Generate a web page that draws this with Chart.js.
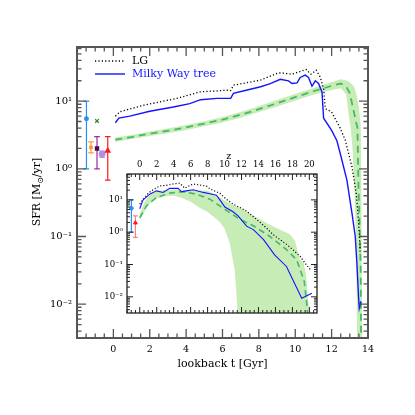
<!DOCTYPE html>
<html>
<head>
<meta charset="utf-8">
<script src="https://cdn.jsdelivr.net/npm/chart.js@4/dist/chart.umd.min.js"></script>
<style>
  body { margin: 0; background: #fff; }
  #marco { position: relative; width: 415px; height: 415px; }
  canvas { position: absolute; left: 0; top: 0; }
</style>
</head>
<body>
<div id="marco">
  <canvas id="principal" width="415" height="415"></canvas>
  <canvas id="recuadro" width="415" height="415"></canvas>
</div>
<script>
// Panel principal: tiempo de lookback (Gyr) contra SFR (Msol/yr)
const tiemposMW = [0.11, 0.3, 0.9, 2.0, 3.3, 4.2, 4.8, 5.7, 6.45, 6.6, 7.3, 8.1, 8.63, 9.18, 9.63, 9.82, 10.1, 10.27, 10.55, 10.73, 10.92, 11.1, 11.28, 11.47, 11.56, 12.0, 12.29, 12.47, 12.84, 13.12, 13.3, 13.39, 13.48, 13.52, 13.61];
const sfrMW = [4.8, 5.6, 6.0, 7.1, 8.2, 9.2, 10.5, 11.0, 11.0, 13.0, 14.5, 16.3, 18.2, 21, 19.9, 18.2, 18.6, 22.4, 24.2, 22.4, 16.6, 20, 18.2, 13.7, 5.6, 3.7, 2.6, 1.7, 0.68, 0.22, 0.1, 0.04, 0.013, 0.0087, 0.011];

const tiemposLG = [0.11, 0.38, 1.67, 3.5, 4.78, 6.25, 6.45, 6.6, 8.08, 8.63, 9.0, 9.18, 9.82, 10.37, 10.6, 10.86, 11.15, 11.37, 11.56, 11.65, 12.0, 12.47, 12.75, 13.12, 13.35, 13.48, 13.53, 13.57];
const sfrLG = [6.0, 7.0, 8.7, 11, 13.7, 14.5, 14.3, 17.2, 20.4, 23.4, 25.7, 26.2, 25, 28, 29.4, 25, 28.7, 22.8, 15.4, 7.8, 6.9, 4.0, 2.65, 1.07, 0.44, 0.17, 0.1, 0.057];

const tiemposModelo = [0.1, 1, 2, 3, 4, 5, 6, 7, 8, 9, 10, 11, 12, 12.5, 12.8, 13.0, 13.2, 13.42, 13.48, 13.55, 13.6, 13.63];
const sfrModelo = [2.7, 2.95, 3.3, 3.65, 4.1, 4.65, 5.35, 6.3, 7.6, 9.3, 11.5, 14, 16.8, 18.2, 16.5, 13, 7.4, 4, 0.5, 0.12, 0.03, 0.001];

const tiemposBanda = [0.1, 1, 2, 3, 4, 5, 6, 7, 8, 9, 10, 11, 12, 12.5, 12.8, 12.95, 13.05, 13.15, 13.25, 13.35, 13.4, 13.5, 13.6, 13.64, 13.68, 13.72];
const bandaAlta = [2.9, 3.15, 3.55, 3.95, 4.45, 5.05, 5.85, 6.9, 8.4, 10.4, 12.8, 15.7, 19.2, 21, 20.2, 19.5, 18.5, 17.5, 16, 13, 11.5, 8, 4.4, 0.3, 0.005, 0.001];
const bandaBaja = [2.5, 2.75, 3.05, 3.35, 3.75, 4.25, 4.85, 5.7, 6.9, 8.3, 10.2, 12.4, 14.6, 15.5, 12.5, 6, 4, 2, 0.5, 0.09, 0.003, 0.001, 0.001, 0.001, 0.001, 0.001];

// Observaciones con barras de error
const obsT = [-1.48, -1.23, -0.9, -0.9, -0.62, -0.31];
const obsSfr = [5.5, 2.07, 2.0, 5.1, 1.65, 1.85];
const obsBajo = [1.0, 1.72, 1.0, null, 1.47, 0.68];
const obsAlto = [10, 2.5, 3.0, null, 1.82, 3.0];
const obsColores = ["#2a8ff0", "#ff9a33", "#9a2c9e", "#2e8b2e", "#b893e0", "#ff1a1a"];
const obsRelleno = ["#2a8ff0", "#ff9a33", "#4f0a55", "#2e8b2e", "#b48ee0", "#ff1a1a"];
const obsMarcas = ["circle", "circle", "rect", "crossRot", "circle", "triangle"];
const obsRadios = [1.8, 1.5, 2.2, 2.6, 2.8, 2.6];

// Recuadro: redshift z contra SFR
const zMW = [0, 0.4, 1.18, 1.97, 2.75, 3.54, 4.52, 4.92, 5.5, 6.3, 7.5, 8.26, 9.05, 9.45, 10.04, 11.0, 11.6, 12.6, 13.4, 14.6, 15.9, 17.3, 19.1, 20.3];
const sfrMWz = [5.3, 10, 15, 19, 17, 22.7, 22.7, 17.8, 19, 20.5, 17, 15.5, 14, 10, 6.0, 4.3, 3.2, 1.54, 1.2, 0.59, 0.2, 0.087, 0.009, 0.013];

const zLG = [0, 0.6, 1.0, 1.57, 2.36, 3.1, 3.93, 4.72, 5.3, 5.8, 6.3, 7.0, 7.87, 8.26, 9.45, 10.2, 11.0, 11.8, 12.6, 13.4, 14.2, 15.0, 15.7, 16.5, 17.3, 18.1, 18.9, 19.5, 20.1];
const sfrLGz = [7.4, 12, 16, 20.6, 27, 28, 31, 33, 23, 27, 31, 29, 26.6, 22, 16, 10.5, 7.4, 5.8, 4.5, 3.0, 2.0, 1.3, 0.85, 0.6, 0.42, 0.28, 0.18, 0.11, 0.07];

const zModelo = [0, 0.79, 1.97, 3.54, 5.1, 6.7, 8.26, 9.84, 11.8, 13.4, 15.3, 17.3, 18.5, 19.0, 19.4, 19.7, 19.9];
const sfrModeloZ = [2.8, 6.5, 11.9, 16.2, 17.8, 15, 10.5, 5.5, 2.5, 1.58, 0.75, 0.29, 0.14, 0.06, 0.03, 0.006, 0.001];

const zBanda = [0, 0.5, 1, 2, 3, 4, 5, 6, 7, 8, 9, 9.5, 10, 10.6, 11.2, 11.6, 12, 13, 14, 15, 16, 17, 17.7, 18.3, 18.9, 19.3, 19.6, 20, 20.3];
const bandaAltaZ = [3.6, 8, 13, 19, 20, 21, 20.5, 20, 19.5, 19, 14, 11.5, 9.5, 8, 6.5, 6, 5.3, 3.8, 2.7, 1.9, 1.4, 1.05, 0.86, 0.54, 0.14, 0.12, 0.05, 0.003, 0.001];
const bandaBajaZ = [2.2, 4, 7, 11, 13, 13.3, 11.5, 8.8, 5.8, 4.2, 2.6, 2.0, 1.3, 0.47, 0.068, 0.002, 0.001, 0.001, 0.001, 0.001, 0.001, 0.001, 0.001, 0.001, 0.001, 0.001, 0.001, 0.001, 0.001];

const obsZ = [-0.98, -0.51];
const obsSfrZ = [5.5, 1.95];
const obsBajoZ = [1.0, 0.69];
const obsAltoZ = [10, 3.2];
const obsColoresZ = ["#2a8ff0", "#ff8080"];
const obsRellenoZ = ["#2a8ff0", "#ff1a1a"];
const obsMarcasZ = ["circle", "triangle"];
const obsRadiosZ = [1.8, 2.2];

// Ticks y textos
const ticksT = [0, 2, 4, 6, 8, 10, 12, 14];
const ticksZ = [0, 2, 4, 6, 8, 10, 12, 14, 16, 18, 20];
const decadas = [0.01, 0.1, 1, 10];
const etiquetasDecada = ["10⁻²", "10⁻¹", "10⁰", "10¹"];
const tituloX = "lookback t [Gyr]";
const tituloY = ["SFR [M", "⊙", "/yr]"];
const tituloZ = "z";
const nombresLeyenda = ["LG", "Milky Way tree"];

const AZUL = "#1414ff";
const VERDE = "#45b86a";
const BANDA = "#c8ecb6";
const FUENTE = '"DejaVu Serif", serif';

Chart.defaults.font.family = FUENTE;
Chart.defaults.color = "#000";

const pts = (xs, ys) => xs.map((x, i) => ({ x, y: ys[i] }));
const etiquetaDecada = (v) => {
  const i = decadas.findIndex((d) => Math.abs(d - v) / d < 1e-6);
  return i >= 0 ? etiquetasDecada[i] : "";
};

// Marco con ticks hacia dentro en los cuatro lados
const marco = (ejeX, cfg) => ({
  id: "marco",
  afterDraw(chart) {
    const { ctx, chartArea: a } = chart;
    const sx = chart.scales[ejeX];
    const sy = chart.scales.y;
    ctx.save();
    ctx.strokeStyle = cfg.color;
    ctx.lineWidth = cfg.grosorTic;
    ctx.beginPath();
    const ini = Math.ceil(sx.min / cfg.pasoMenor - 1e-9) * cfg.pasoMenor;
    for (let v = ini; v <= sx.max + 1e-9; v += cfg.pasoMenor) {
      const r = v / cfg.pasoMayor;
      const largo = Math.abs(r - Math.round(r)) < 1e-6 ? cfg.mayor : cfg.menor;
      const px = sx.getPixelForValue(v);
      ctx.moveTo(px, a.bottom);
      ctx.lineTo(px, a.bottom - largo);
      ctx.moveTo(px, a.top);
      ctx.lineTo(px, a.top + largo);
    }
    const e0 = Math.floor(Math.log10(sy.min));
    const e1 = Math.ceil(Math.log10(sy.max));
    for (let e = e0; e <= e1; e++) {
      for (let m = 1; m <= 9; m++) {
        const v = m * Math.pow(10, e);
        if (v < sy.min || v > sy.max) continue;
        const py = sy.getPixelForValue(v);
        const largo = m === 1 ? cfg.mayor : cfg.menor;
        ctx.moveTo(a.left, py);
        ctx.lineTo(a.left + largo, py);
        ctx.moveTo(a.right, py);
        ctx.lineTo(a.right - largo, py);
      }
    }
    ctx.stroke();
    ctx.lineWidth = cfg.grosor;
    ctx.strokeRect(a.left, a.top, a.right - a.left, a.bottom - a.top);
    ctx.restore();
  },
});

// Barras de error verticales con remates
const barras = (ejeX, xs, bajos, altos, colores, remate) => ({
  id: "barras",
  beforeDatasetsDraw(chart) {
    const { ctx } = chart;
    const sx = chart.scales[ejeX];
    const sy = chart.scales.y;
    ctx.save();
    ctx.lineWidth = 1.2;
    xs.forEach((x, i) => {
      if (bajos[i] == null) return;
      const px = sx.getPixelForValue(x);
      const y1 = sy.getPixelForValue(bajos[i]);
      const y2 = sy.getPixelForValue(altos[i]);
      ctx.strokeStyle = colores[i];
      ctx.beginPath();
      ctx.moveTo(px, y1);
      ctx.lineTo(px, y2);
      ctx.moveTo(px - remate, y1);
      ctx.lineTo(px + remate, y1);
      ctx.moveTo(px - remate, y2);
      ctx.lineTo(px + remate, y2);
      ctx.stroke();
    });
    ctx.restore();
  },
});

// Títulos de ejes y leyenda del panel principal
const textosPrincipal = {
  id: "textosPrincipal",
  afterDraw(chart) {
    const { ctx, chartArea: a } = chart;
    ctx.save();
    ctx.fillStyle = "#000";
    ctx.textBaseline = "middle";
    ctx.font = "11px " + FUENTE;
    ctx.textAlign = "center";
    ctx.fillText(tituloX, (a.left + a.right) / 2, 364);

    // título Y girado con subíndice
    ctx.save();
    ctx.translate(37, 192);
    ctx.rotate(-Math.PI / 2);
    ctx.textAlign = "left";
    const fGrande = "11px " + FUENTE;
    const fChica = "8px " + FUENTE;
    ctx.font = fGrande;
    const w0 = ctx.measureText(tituloY[0]).width;
    const w2 = ctx.measureText(tituloY[2]).width;
    ctx.font = fChica;
    const w1 = ctx.measureText(tituloY[1]).width;
    let x = -(w0 + w1 + w2) / 2;
    ctx.font = fGrande;
    ctx.fillText(tituloY[0], x, 0);
    x += w0;
    ctx.font = fChica;
    ctx.fillText(tituloY[1], x, 3.5);
    x += w1;
    ctx.font = fGrande;
    ctx.fillText(tituloY[2], x, 0);
    ctx.restore();

    // leyenda
    const lx = a.left + 18;
    ctx.lineWidth = 1.3;
    ctx.strokeStyle = "#000";
    ctx.setLineDash([1.2, 2.2]);
    ctx.beginPath();
    ctx.moveTo(lx, a.top + 14);
    ctx.lineTo(lx + 29, a.top + 14);
    ctx.stroke();
    ctx.setLineDash([]);
    ctx.strokeStyle = AZUL;
    ctx.lineWidth = 1.4;
    ctx.beginPath();
    ctx.moveTo(lx, a.top + 27);
    ctx.lineTo(lx + 30, a.top + 27);
    ctx.stroke();
    ctx.textAlign = "left";
    ctx.font = "11px " + FUENTE;
    ctx.fillStyle = "#000";
    ctx.fillText(nombresLeyenda[0], lx + 37, a.top + 14);
    ctx.fillStyle = AZUL;
    ctx.fillText(nombresLeyenda[1], lx + 37, a.top + 27);
    ctx.restore();
  },
};

const fondoRecuadro = {
  id: "fondoRecuadro",
  beforeDraw(chart) {
    const { ctx, chartArea: a } = chart;
    ctx.save();
    ctx.fillStyle = "#fff";
    ctx.fillRect(a.left, a.top, a.right - a.left, a.bottom - a.top);
    ctx.restore();
  },
  afterDraw(chart) {
    const { ctx } = chart;
    const sx = chart.scales.x;
    ctx.save();
    ctx.fillStyle = "#000";
    ctx.font = "9.5px " + FUENTE;
    ctx.textAlign = "center";
    ctx.textBaseline = "middle";
    ctx.fillText(tituloZ, sx.getPixelForValue(10.5), 157);
    ctx.restore();
  },
};

const lineaBase = { pointRadius: 0, tension: 0, fill: false };
const sinRejilla = { display: false, drawTicks: false, tickLength: 0 };

// Gráfico principal
const graficoPrincipal = new Chart(document.querySelector("#principal"), {
  type: "line",
  data: {
    datasets: [
      { ...lineaBase, data: pts(tiemposBanda, bandaBaja), borderWidth: 0, order: 10 },
      { ...lineaBase, data: pts(tiemposBanda, bandaAlta), borderWidth: 0, fill: "-1", backgroundColor: BANDA, order: 10 },
      { ...lineaBase, data: pts(tiemposModelo, sfrModelo), borderColor: VERDE, borderWidth: 1.8, borderDash: [7, 5], order: 3 },
      { ...lineaBase, data: pts(tiemposLG, sfrLG), borderColor: "#000", borderWidth: 1.3, borderDash: [1.2, 2.2], order: 2 },
      { ...lineaBase, data: pts(tiemposMW, sfrMW), borderColor: AZUL, borderWidth: 1.4, order: 1 },
      {
        data: pts(obsT, obsSfr),
        showLine: false,
        pointStyle: obsMarcas,
        pointRadius: obsRadios,
        pointBackgroundColor: obsRelleno,
        pointBorderColor: obsRelleno,
        pointBorderWidth: 1.3,
        order: 0,
      },
    ],
  },
  options: {
    responsive: false,
    animation: false,
    events: [],
    layout: { padding: { left: 0, right: 47, top: 47, bottom: 0 } },
    plugins: { legend: { display: false }, tooltip: { enabled: false } },
    scales: {
      x: {
        type: "linear",
        min: -2,
        max: 14,
        grid: sinRejilla,
        border: { display: false },
        afterBuildTicks: (eje) => { eje.ticks = ticksT.map((v) => ({ value: v })); },
        afterFit: (eje) => { eje.height = 77; },
        ticks: { padding: 6, autoSkip: false, maxRotation: 0, font: { size: 9.5 } },
      },
      y: {
        type: "logarithmic",
        min: Math.pow(10, -2.5),
        max: Math.pow(10, 1.8),
        grid: sinRejilla,
        border: { display: false },
        afterBuildTicks: (eje) => { eje.ticks = decadas.map((v) => ({ value: v })); },
        afterFit: (eje) => { eje.width = 77; },
        ticks: { padding: 5, autoSkip: false, font: { size: 10 }, callback: etiquetaDecada },
      },
    },
  },
  plugins: [
    marco("x", { color: "#555", grosor: 2, grosorTic: 1.3, mayor: 9, menor: 4.5, pasoMenor: 0.5, pasoMayor: 2 }),
    barras("x", obsT, obsBajo, obsAlto, obsColores, 2.8),
    textosPrincipal,
  ],
});

// Recuadro en función del redshift
const graficoRecuadro = new Chart(document.querySelector("#recuadro"), {
  type: "line",
  data: {
    datasets: [
      { ...lineaBase, data: pts(zBanda, bandaBajaZ), borderWidth: 0, order: 10 },
      { ...lineaBase, data: pts(zBanda, bandaAltaZ), borderWidth: 0, fill: "-1", backgroundColor: BANDA, order: 10 },
      { ...lineaBase, data: pts(zModelo, sfrModeloZ), borderColor: VERDE, borderWidth: 1.6, borderDash: [6, 4], order: 3 },
      { ...lineaBase, data: pts(zLG, sfrLGz), borderColor: "#000", borderWidth: 1.2, borderDash: [1.1, 2], order: 2 },
      { ...lineaBase, data: pts(zMW, sfrMWz), borderColor: AZUL, borderWidth: 1.1, order: 1 },
      {
        data: pts(obsZ, obsSfrZ),
        showLine: false,
        pointStyle: obsMarcasZ,
        pointRadius: obsRadiosZ,
        pointBackgroundColor: obsRellenoZ,
        pointBorderColor: obsRellenoZ,
        pointBorderWidth: 1,
        order: 0,
      },
    ],
  },
  options: {
    responsive: false,
    animation: false,
    events: [],
    layout: { padding: { left: 0, right: 98, top: 150, bottom: 102 } },
    plugins: { legend: { display: false }, tooltip: { enabled: false } },
    scales: {
      x: {
        type: "linear",
        position: "top",
        min: -1.5,
        max: 20.9,
        grid: sinRejilla,
        border: { display: false },
        afterBuildTicks: (eje) => { eje.ticks = ticksZ.map((v) => ({ value: v })); },
        afterFit: (eje) => { eje.height = 24; },
        ticks: { padding: 4, autoSkip: false, maxRotation: 0, font: { size: 8.5 } },
      },
      y: {
        type: "logarithmic",
        min: Math.pow(10, -2.5),
        max: Math.pow(10, 1.8),
        grid: sinRejilla,
        border: { display: false },
        afterBuildTicks: (eje) => { eje.ticks = decadas.map((v) => ({ value: v })); },
        afterFit: (eje) => { eje.width = 127; },
        ticks: { padding: 4, autoSkip: false, font: { size: 8.5 }, callback: etiquetaDecada },
      },
    },
  },
  plugins: [
    fondoRecuadro,
    marco("x", { color: "#222", grosor: 1.3, grosorTic: 1, mayor: 6, menor: 3, pasoMenor: 0.5, pasoMayor: 2 }),
    barras("x", obsZ, obsBajoZ, obsAltoZ, obsColoresZ, 2.5),
  ],
});
</script>
</body>
</html>
